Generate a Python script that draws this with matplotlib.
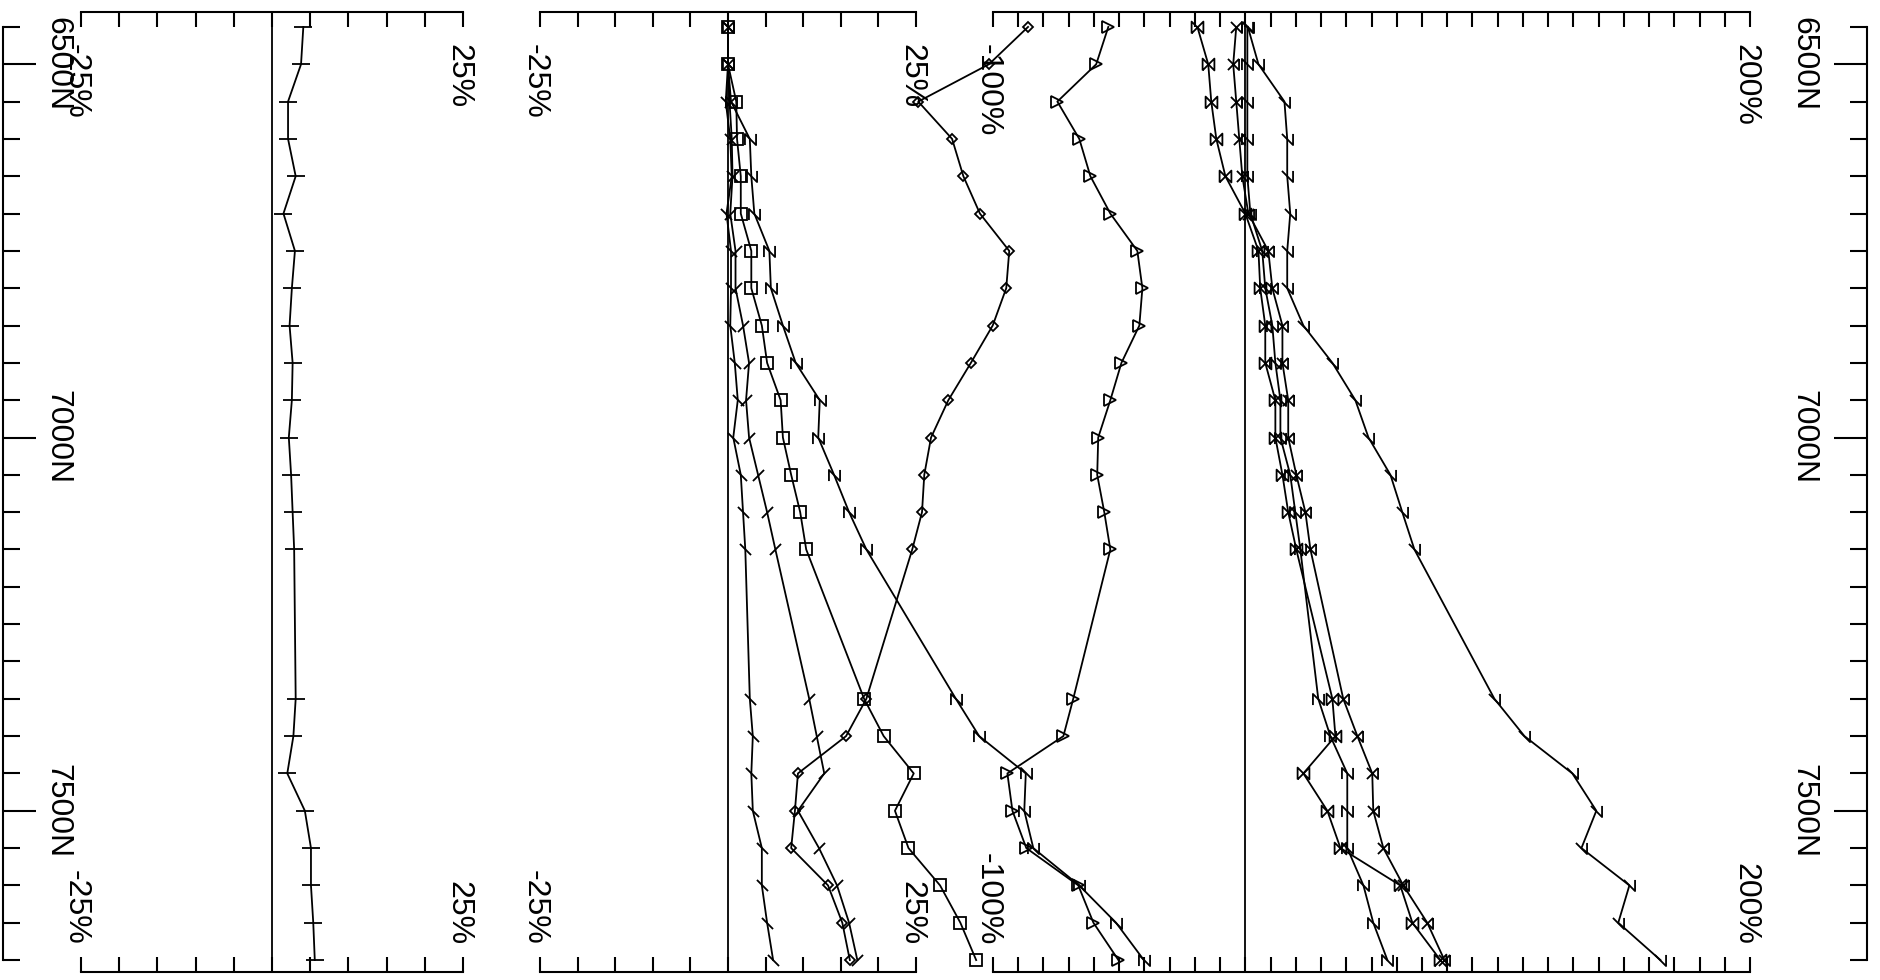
import matplotlib
matplotlib.use("Agg")
import numpy as np
import matplotlib.pyplot as plt
from matplotlib.path import Path
from matplotlib import transforms

plt.rcParams['font.family'] = ['Liberation Sans', 'DejaVu Sans']

# northing of each sample row (rows 7200-7300 are missing in the source)
northing = [6450, 6500, 6550, 6600, 6650, 6700, 6750, 6800, 6850, 6900, 6950, 7000,
            7050, 7100, 7150, 7350, 7400, 7450, 7500, 7550, 7600, 7650, 7700]
northing_major = [6500, 7000, 7500]
northing_labels = ['6500N', '7000N', '7500N']

# left panel (-25% .. 25%)
p1_dash = [4.1, 3.8, 2.1, 2.1, 3.1, 1.5, 3.0, 2.6, 2.3, 2.7, 2.6, 2.2,
           2.5, 2.7, 2.9, 3.1, 2.8, 2.0, 4.3, 5.1, 5.1, 5.4, 5.6]

# middle panel (-25% .. 25%)
p2_back = [0, 0, -0.3, 0.3, 0.5, -0.2, 0.4, 0.4, 0.3, 0.9, 1.3, 0.7,
           1.7, 2.0, 2.3, 2.9, 3.3, 3.1, 3.3, 4.5, 4.5, 5.2, 6.0]
p2_fwd = [0, 0, 0.2, 0.5, 0.6, 0.3, 1.0, 1.0, 2.0, 2.8, 2.4, 2.8,
          4.0, 5.2, 6.3, 10.8, 11.8, 12.8, 9.3, 12.1, 14.5, 16.1, 17.2]
p2_square = [0, 0, 1.1, 1.2, 1.7, 1.7, 3.1, 3.1, 4.5, 5.2, 7.0, 7.3,
             8.4, 9.6, 10.4, 18.1, 20.7, 24.7, 22.2, 24.0, 28.2, 30.9, 33.0]
p2_n = [0, 0, 0.4, 2.9, 3.1, 3.5, 5.5, 5.7, 7.3, 9.0, 12.2, 12.0,
        14.1, 16.1, 18.4, 30.3, 33.4, 39.6, 39.4, 40.6, 46.7, 51.6, 55.3]
p2_diamond = [39.9, 34.7, 25.3, 29.8, 31.3, 33.5, 37.4, 37.0, 35.2, 32.3, 29.3, 27.0,
              26.1, 25.8, 24.5, 18.4, 15.7, 9.3, 8.9, 8.4, 13.3, 15.2, 16.2]

# right panel (-100% .. 200%)
p3_triangle = [-54.3, -59.1, -74.5, -65.8, -61.4, -53.5, -42.8, -40.8, -42.0, -49.1, -53.5, -58.3,
               -58.7, -55.9, -53.5, -68.2, -72.1, -94.3, -92.3, -86.8, -66.2, -60.2, -50.3]
p3_bowtie = [-19.0, -14.7, -13.5, -11.5, -7.9, 0.0, 5.2, 5.9, 7.9, 7.9, 11.9, 11.9,
             14.7, 17.0, 20.2, 34.5, 35.7, 23.0, 32.5, 37.7, 61.4, 66.2, 77.3]
p3_n = [0.8, 0.8, 0.8, 0.8, 0.8, 2.0, 6.7, 7.9, 10.7, 11.9, 13.9, 13.9,
        17.8, 19.8, 21.8, 28.9, 33.7, 40.4, 40.4, 40.4, 46.8, 50.7, 56.3]
p3_xbar = [-3.6, -4.8, -3.6, -2.4, -1.2, 1.2, 9.1, 10.7, 14.7, 14.7, 17.0, 17.0,
           20.2, 23.8, 25.8, 38.8, 44.4, 50.3, 50.7, 54.7, 62.6, 72.1, 78.9]
p3_check = [1.0, 5.2, 15.5, 16.6, 16.6, 17.8, 16.6, 16.6, 23.0, 34.5, 43.6, 48.8,
            57.5, 62.2, 67.0, 98.7, 110.6, 129.6, 139.1, 133.2, 152.2, 147.8, 164.5]

M, L = Path.MOVETO, Path.LINETO
mk_fwd = Path([(-1, -1), (1, 1)], [M, L])
mk_back = Path([(-1, 1), (1, -1)], [M, L])
mk_n = Path([(-1, -1), (-1, 1), (1, -1), (1, 1)], [M, L, L, L])
mk_bowtie = Path([(-1, -1), (-1, 1), (1, -1), (1, 1), (-1, -1)], [M, L, L, L, L])
mk_xbar = Path([(-1, -1), (1, 1), (-1, 1), (1, -1), (1, 1)], [M, L, M, L, L])
mk_check = Path([(-1, 1), (1, -1), (1, 1)], [M, L, L])

W, H = 1881, 980
fig = plt.figure(figsize=(W / 100, H / 100), dpi=100)

TOP_PX, BOT_PX = 12, 972
Y_TOP, Y_BOT = 6430, 7716
FS = 23


def rect(x0, x1):
    return [x0 / W, 1 - BOT_PX / H, (x1 - x0) / W, (BOT_PX - TOP_PX) / H]


# northing scale on both sides
ax_n = fig.add_axes(rect(3, 1867))
ax_n.set_xlim(0, 1)
ax_n.set_ylim(Y_BOT, Y_TOP)
ax_n.patch.set_visible(False)
for s in ['top', 'bottom']:
    ax_n.spines[s].set_visible(False)
for s in ['left', 'right']:
    ax_n.spines[s].set_bounds(northing[0], northing[-1])
    ax_n.spines[s].set_linewidth(1.5)
ax_n.set_xticks([])
ax_n.yaxis.set_ticks_position('both')
ax_n.set_yticks(northing_major)
ax_n.set_yticks(np.arange(6450, 7701, 50), minor=True)
ax_n.tick_params(axis='y', which='major', direction='in', length=24, width=1.5,
                 labelleft=False, labelright=False)
ax_n.tick_params(axis='y', which='minor', direction='in', length=12, width=1.5)
for xpx in (57, 1803):
    tr = transforms.blended_transform_factory(fig.transFigure, ax_n.transData)
    for v, lab in zip(northing_major, northing_labels):
        ax_n.text(xpx / W, v, lab, rotation=-90, ha='center', va='center',
                  fontsize=FS, transform=tr)


def panel(x0, x1, lo, hi, step, lab_lo, lab_hi):
    ax = fig.add_axes(rect(x0, x1))
    ax.set_xlim(lo, hi)
    ax.set_ylim(Y_BOT, Y_TOP)
    ax.patch.set_visible(False)
    ax.spines['left'].set_visible(False)
    ax.spines['right'].set_visible(False)
    ax.spines['top'].set_linewidth(1.5)
    ax.spines['bottom'].set_linewidth(1.5)
    ax.set_xticks(np.arange(lo, hi + step, step))
    ax.set_yticks([])
    ax.tick_params(axis='x', top=True, bottom=True, direction='in', length=11,
                   width=1.5, labelbottom=False, labeltop=False)
    ax.axvline(0, color='k', lw=1.3)
    tr = transforms.offset_copy(ax.get_xaxis_transform(), fig=fig, x=-5, units='dots')
    hpx = BOT_PX - TOP_PX
    for xv, lab in ((lo, lab_lo), (hi, lab_hi)):
        ax.text(xv, 1 - 32 / hpx, lab, rotation=-90, ha='center', va='top',
                fontsize=FS, transform=tr)
        ax.text(xv, 27 / hpx, lab, rotation=-90, ha='center', va='bottom',
                fontsize=FS, transform=tr)
    return ax


ax1 = panel(81, 463, -25, 25, 5, '-25%', '25%')
ax2 = panel(540, 916, -25, 25, 5, '-25%', '25%')
ax3 = panel(993, 1750, -100, 200, 10, '-100%', '200%')

style = dict(color='k', lw=1.3, mfc='none', mec='k', mew=1.3, clip_on=False)

ax1.plot(p1_dash, northing, marker='_', ms=13, **style)

ax2.plot(p2_back, northing, marker=mk_back, ms=8, **style)
ax2.plot(p2_fwd, northing, marker=mk_fwd, ms=8, **style)
ax2.plot(p2_square, northing, marker='s', ms=8, **style)
ax2.plot(p2_n, northing, marker=mk_n, ms=8, **style)
ax2.plot(p2_diamond, northing, marker='D', ms=5.5, **style)

ax3.plot(p3_triangle, northing, marker='>', ms=8, **style)
ax3.plot(p3_bowtie, northing, marker=mk_bowtie, ms=8.5, **style)
ax3.plot(p3_n, northing, marker=mk_n, ms=8, **style)
ax3.plot(p3_xbar, northing, marker=mk_xbar, ms=8, **style)
ax3.plot(p3_check, northing, marker=mk_check, ms=8, **style)

fig.savefig('out.png', dpi=100)
